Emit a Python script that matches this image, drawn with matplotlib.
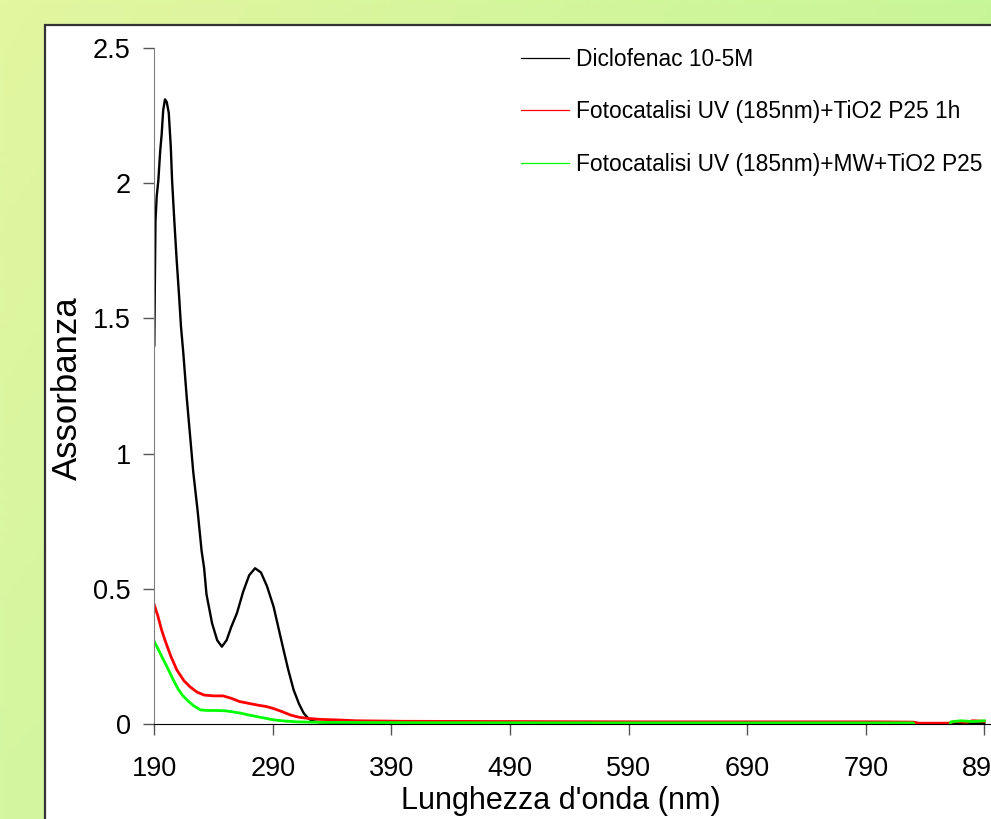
import numpy as np
import matplotlib
matplotlib.use("Agg")
import matplotlib.pyplot as plt
from matplotlib.lines import Line2D
from matplotlib.patches import Rectangle

plt.rcParams['font.family'] = ['Liberation Sans', 'DejaVu Sans']

# UV-Vis spectra, absorbance vs wavelength (nm)
wl_diclo = [190, 190.5, 191, 192, 193.4, 195, 196.2, 197.5, 199, 200.5, 202.2, 203.9,
            205, 206.9, 208.8, 210.8, 212.5, 214.5, 217.3, 220, 222.9, 226.5, 229.9,
            232, 234, 238.7, 243, 247, 251, 255, 259.7, 265, 270, 275, 280, 285,
            290.6, 295, 299, 303, 307.5, 312, 316, 320, 324, 330, 350, 500, 700, 890]
abs_diclo = [1.40, 1.64, 1.86, 1.95, 2.01, 2.12, 2.18, 2.27, 2.31, 2.30, 2.26, 2.135,
             2.01, 1.86, 1.72, 1.59, 1.47, 1.37, 1.21, 1.075, 0.93, 0.79, 0.64,
             0.577, 0.48, 0.373, 0.31, 0.286, 0.31, 0.36, 0.41, 0.49, 0.55, 0.576, 0.56, 0.51,
             0.434, 0.35, 0.274, 0.20, 0.126, 0.075, 0.04, 0.02, 0.01, 0.006, 0.004, 0.003, 0.002, 0.002]

wl_uv = [190, 193, 196, 199, 204, 209, 215, 220, 226, 232, 240, 248, 255, 262, 270,
         277, 284, 290, 297, 305, 312, 319, 330, 345, 360, 400, 500, 600, 700, 800,
         830, 835, 860, 866, 875, 880, 890]
abs_uv = [0.44, 0.40, 0.35, 0.31, 0.25, 0.20, 0.16, 0.138, 0.118, 0.107, 0.104, 0.104,
          0.095, 0.083, 0.076, 0.07, 0.065, 0.058, 0.047, 0.033, 0.025, 0.021, 0.017,
          0.015, 0.012, 0.010, 0.009, 0.008, 0.008, 0.008, 0.007, 0.003, 0.003, 0.010,
          0.006, 0.012, 0.010]

wl_uvmw = [190, 194, 198, 202, 206, 210, 214, 218, 223, 229, 235, 242, 249, 256, 263,
           270, 277, 284, 291, 300, 310, 330, 400, 600, 800, 830, 832, 860, 862, 870, 880, 890]
abs_uvmw = [0.305, 0.27, 0.235, 0.20, 0.163, 0.13, 0.105, 0.087, 0.068, 0.052, 0.05, 0.05,
            0.049, 0.045, 0.04, 0.033, 0.027, 0.021, 0.015, 0.011, 0.008, 0.006, 0.005,
            0.004, 0.004, 0.004, -0.01, -0.01, 0.008, 0.012, 0.009, 0.012]

labels = ["Diclofenac 10-5M",
          "Fotocatalisi UV (185nm)+TiO2 P25 1h",
          "Fotocatalisi UV (185nm)+MW+TiO2 P25"]
colors = ["#000000", "#ff0000", "#00ff00"]

xticks = [190, 290, 390, 490, 590, 690, 790, 890]
yticks = [0, 0.5, 1, 1.5, 2, 2.5]
ytick_labels = ["0", "0.5", "1", "1.5", "2", "2.5"]

fig = plt.figure(figsize=(9.91, 8.19), dpi=100)

# green-yellow gradient backdrop
bg = fig.add_axes([0, 0, 1, 1], zorder=-10)
bg.axis("off")
gx, gy = np.meshgrid(np.linspace(0, 1, 200), np.linspace(0, 1, 200))
tl = np.array([227, 246, 160]) / 255
tr = np.array([199, 246, 152]) / 255
bl = np.array([212, 246, 160]) / 255
br = np.array([190, 240, 150]) / 255
grad = ((1 - gx)[..., None] * (1 - gy)[..., None] * tl + gx[..., None] * (1 - gy)[..., None] * tr
        + (1 - gx)[..., None] * gy[..., None] * bl + gx[..., None] * gy[..., None] * br)
bg.imshow(grad, extent=[0, 1, 0, 1], aspect="auto", origin="upper")
bg.set_xlim(0, 1)
bg.set_ylim(0, 1)

# white chart panel
fig.patches.append(Rectangle((44.5 / 991, -0.05), 1.0, 1 - 25 / 819 + 0.05,
                             transform=fig.transFigure, facecolor="white",
                             edgecolor="#333333", linewidth=1.6, zorder=-5))

ax = fig.add_axes([154.3 / 991, 95 / 819, (991 - 154.3) / 991, 676 / 819])
ax.set_facecolor("none")

ax.plot(wl_diclo, abs_diclo, color=colors[0], lw=1.7)
ax.plot(wl_uv, abs_uv, color=colors[1], lw=2.0)
ax.plot(wl_uvmw, abs_uvmw, color=colors[2], lw=2.0)

ax.set_xlim(190, 190 + (991 - 154.3) / 1.1857)
ax.set_ylim(0, 2.5)
ax.set_xticks(xticks)
ax.set_yticks(yticks)
ax.set_yticklabels(ytick_labels)

for s in ["top", "right"]:
    ax.spines[s].set_visible(False)
ax.spines["left"].set_color("#808080")
ax.spines["bottom"].set_color("#000000")
ax.tick_params(axis="y", length=8, width=1, color="#555555", labelsize=19.5, pad=9)
ax.tick_params(axis="x", length=8, width=1, color="#555555", labelsize=19.5, pad=15)

ax.set_ylabel("Assorbanza", fontsize=25)
ax.set_xlabel("Lunghezza d'onda (nm)", fontsize=22)
ax.yaxis.set_label_coords(-0.084, 0.497)
ax.xaxis.set_label_coords(0.486, -0.092)

handles = [Line2D([], [], color=c, lw=0.9) for c in colors]
ax.legend(handles, labels, loc="upper left", bbox_to_anchor=(521 / 991, 1 - 48 / 819),
          bbox_transform=fig.transFigure, frameon=False, fontsize=16.4,
          handlelength=2.1, handletextpad=0.3, labelspacing=1.29,
          borderpad=0, borderaxespad=0)

fig.savefig("out.png", dpi=100)
